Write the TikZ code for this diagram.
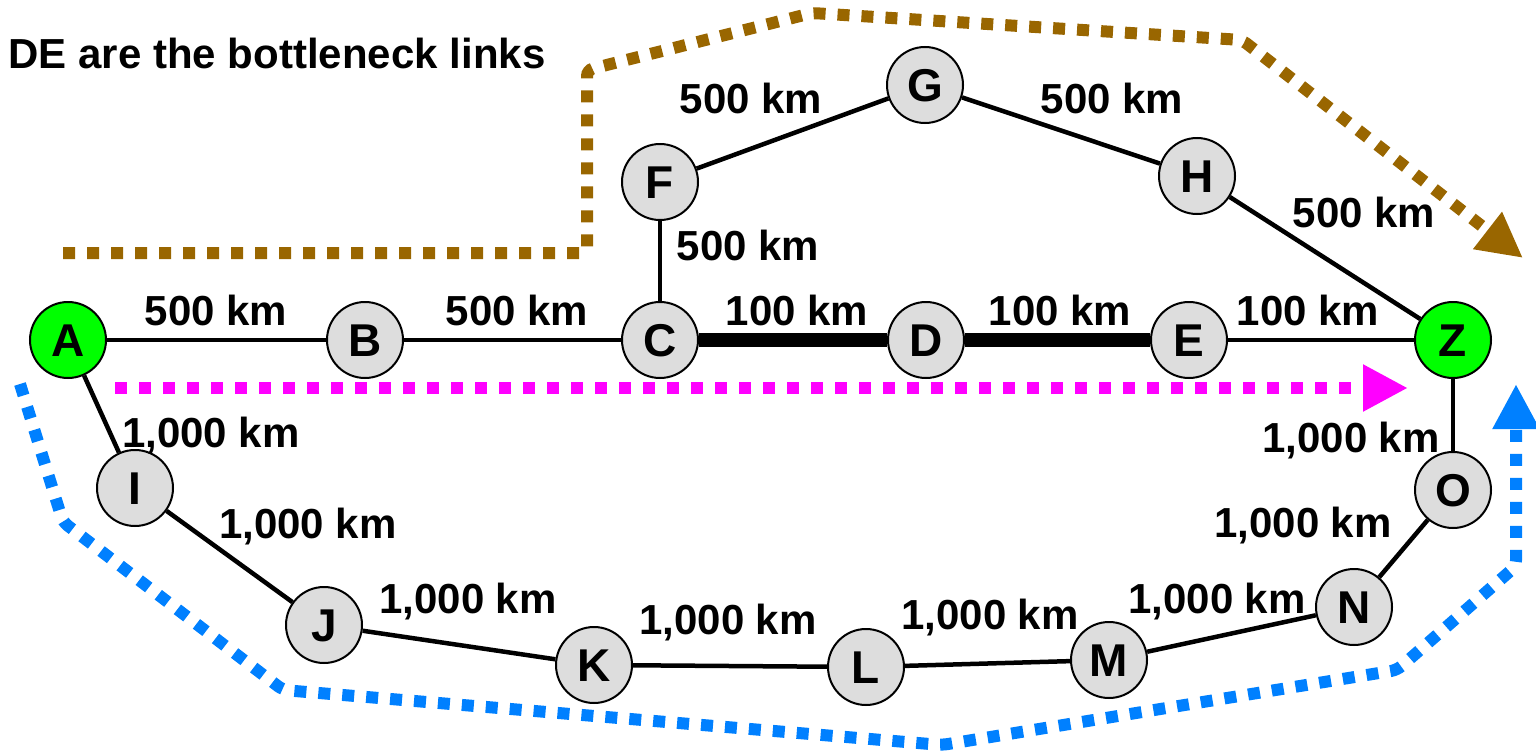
\documentclass[tikz,border=0pt]{standalone}
\usepackage{fontspec}
\setmainfont{Liberation Sans}
\usetikzlibrary{arrows.meta}
\definecolor{routebrown}{HTML}{996600}
\definecolor{routeblue}{HTML}{0080FF}
\definecolor{routemag}{HTML}{FF00FF}
\definecolor{endgreen}{HTML}{00FF00}
\definecolor{nodegray}{HTML}{DDDDDD}
\pgfdeclarelayer{background}
\pgfsetlayers{background,main}
\begin{document}
\begin{tikzpicture}[x=1pt,y=-1pt,
  router/.style={circle, draw=black, line width=2pt, fill=nodegray,
    minimum size=76pt, inner sep=0pt, text height=33pt, text depth=0pt,
    font=\fontsize{46}{52}\selectfont\bfseries},
  endpoint/.style={router, fill=endgreen},
  link/.style={line width=4.5pt},
  bottleneck/.style={line width=14pt},
  km/.style={font=\fontsize{42}{50}\selectfont\bfseries, anchor=base, inner sep=0pt},
  route/.style={line width=12pt, dash pattern=on 12pt off 12pt, rounded corners=6pt,
    -{Triangle[length=45pt,width=44pt]}}]
\useasboundingbox (0,0) rectangle (1536,752);

% routers
\node[endpoint] (A) at (68,340) {A};
\node[router]   (B) at (365,340) {B};
\node[router]   (C) at (660,340) {C};
\node[router]   (D) at (926,340) {D};
\node[router]   (E) at (1189,340) {E};
\node[endpoint] (Z) at (1453,340) {Z};
\node[router]   (F) at (660,182) {F};
\node[router]   (G) at (925,85) {G};
\node[router]   (H) at (1197,176) {H};
\node[router]   (I) at (135,488) {I};
\node[router]   (J) at (324,625) {J};
\node[router]   (K) at (594,665) {K};
\node[router]   (L) at (866,667) {L};
\node[router]   (M) at (1109,660) {M};
\node[router]   (N) at (1354,607) {N};
\node[router]   (O) at (1453,490) {O};

% links
\begin{pgfonlayer}{background}
\draw[link] (A) -- (B);
\draw[link] (B) -- (C);
\draw[bottleneck] (C) -- (D);
\draw[bottleneck] (D) -- (E);
\draw[link] (E) -- (Z);
\draw[link] (C) -- (F);
\draw[link] (F) -- (G);
\draw[link] (G) -- (H);
\draw[link] (H) -- (Z);
\draw[link] (A) -- (I);
\draw[link] (I) -- (J);
\draw[link] (J) -- (K);
\draw[link] (K) -- (L);
\draw[link] (L) -- (M);
\draw[link] (M) -- (N);
\draw[link] (N) -- (O);
\draw[link] (O) -- (Z);
\end{pgfonlayer}

% distances
\node[km] (lAB) at (216,325) {500 km};
\node[km] (lBC) at (517,325) {500 km};
\node[km] (lCD) at (797,325) {100 km};
\node[km] (lDE) at (1060,325) {100 km};
\node[km] (lEZ) at (1308,325) {100 km};
\node[km] (lCF) at (748,260) {500 km};
\node[km] (lFG) at (751,113) {500 km};
\node[km] (lGH) at (1112,113) {500 km};
\node[km] (lHZ) at (1364,227) {500 km};
\node[km] (lAI) at (211,447) {1,000 km};
\node[km] (lIJ) at (308,538) {1,000 km};
\node[km] (lJK) at (468,613) {1,000 km};
\node[km] (lKL) at (728,634) {1,000 km};
\node[km] (lLM) at (990,629) {1,000 km};
\node[km] (lMN) at (1217,613) {1,000 km};
\node[km] (lNO) at (1303,537) {1,000 km};
\node[km] (lOZ) at (1351,452) {1,000 km};

\node[km] (title) at (277,68) {DE are the bottleneck links};

% routes
\coordinate (b0) at (63,253);
\coordinate (b1) at (587,253);
\coordinate (b2) at (587,70);
\coordinate (b3) at (812,13);
\coordinate (b4) at (1242,40);
\coordinate (b5) at (1523,258);
\draw[route, draw=routebrown, -{Triangle[length=45pt,width=44pt,fill=routebrown]}]
  (b0) -- (b1) -- (b2) -- (b3) -- (b4) -- (b5);

\coordinate (m0) at (115,388);
\coordinate (m1) at (1408,388);
\draw[route, draw=routemag] (m0) -- (m1);

\coordinate (u0) at (20,384);
\coordinate (u1) at (63,522);
\coordinate (u2) at (283,690);
\coordinate (u3) at (942,745);
\coordinate (u4) at (1397,670);
\coordinate (u5) at (1516,566);
\coordinate (u6) at (1516,384);
\draw[route, draw=routeblue] (u0) -- (u1) -- (u2) -- (u3) -- (u4) -- (u5) -- (u6);
\end{tikzpicture}
\end{document}
